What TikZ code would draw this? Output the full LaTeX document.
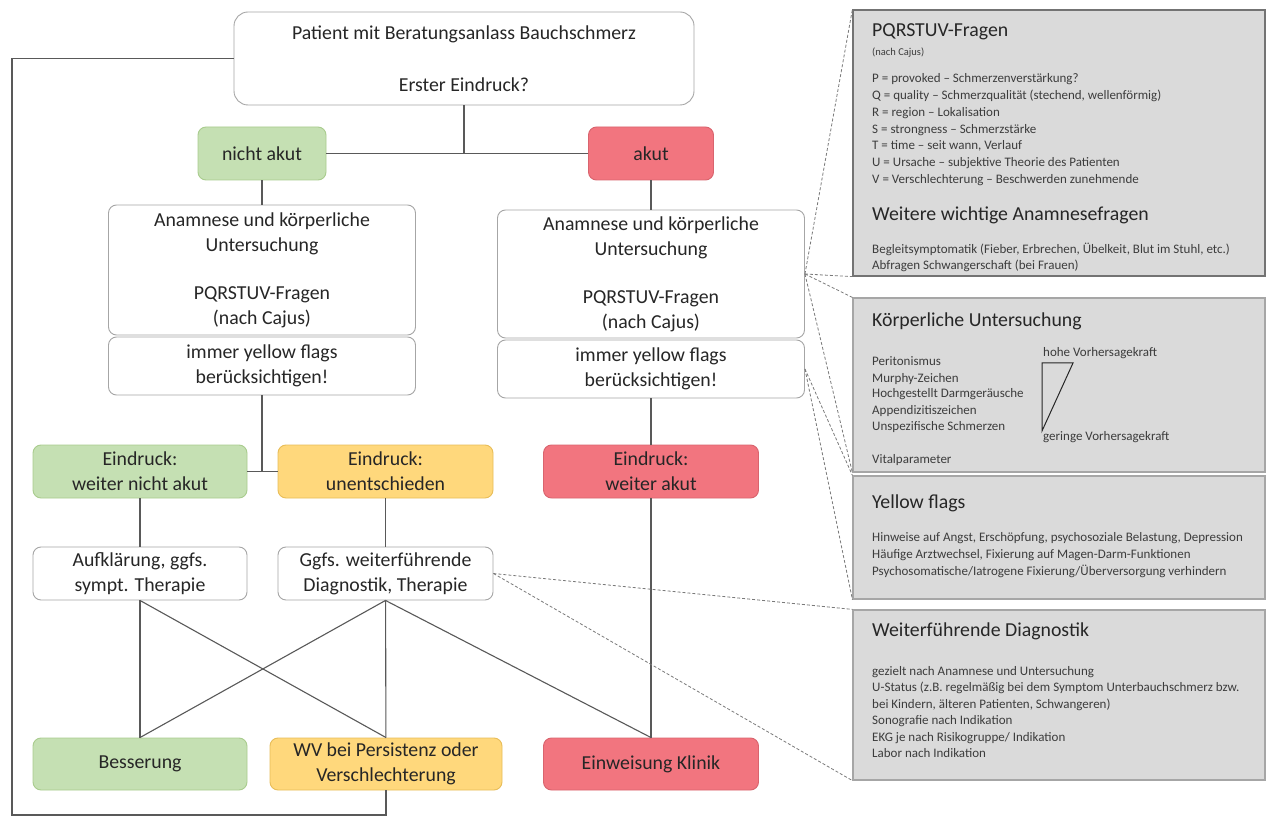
\documentclass[tikz,border=0pt]{standalone}
\usepackage{fontspec}
\setmainfont{Carlito}
\usepackage{tikz}
\usetikzlibrary{positioning}
\usepackage{xcolor}

\definecolor{gfill}{HTML}{C5E0B3}
\definecolor{gline}{HTML}{A9CC8E}
\definecolor{rfill}{HTML}{F2757F}
\definecolor{rline}{HTML}{D9646E}
\definecolor{ofill}{HTML}{FFD87C}
\definecolor{oline}{HTML}{E8BD58}
\definecolor{boxline}{HTML}{A6A6A6}
\definecolor{connline}{HTML}{595959}
\definecolor{pfill}{HTML}{DADADA}
\definecolor{txt}{HTML}{262626}

\tikzset{
  box/.style={draw=boxline, fill=white, rounded corners=8pt, align=center,
    font=\fontsize{19.8}{25}\selectfont, text=txt, inner sep=2pt, line width=0.9pt},
  greenbox/.style={box, fill=gfill, draw=gline},
  redbox/.style={box, fill=rfill, draw=rline},
  orangebox/.style={box, fill=ofill, draw=oline},
  conn/.style={draw=connline, line width=1.1pt},
  callout/.style={draw=connline!80, line width=0.8pt, dash pattern=on 3pt off 2pt},
  panel/.style={rectangle, fill=pfill, draw=boxline, line width=1.2pt},
  ptitle/.style={anchor=west, inner sep=0pt, text=txt,
    font=\fontsize{19.8}{22}\selectfont},
  ptext/.style={anchor=west, inner sep=0pt, text=txt!90,
    font=\fontsize{13}{15}\selectfont, text height=9pt, text depth=3pt},
  pnote/.style={ptext, font=\fontsize{10.5}{12}\selectfont}
}

\begin{document}
\begin{tikzpicture}[x=1pt,y=-1pt]
\useasboundingbox (0,0) rectangle (1267,818);
\fill[white] (0,0) rectangle (1267,818);

% flow chart
\node[box, rounded corners=14pt, minimum width=460pt, minimum height=93pt] (top) at (464,58.5)
  {Patient mit Beratungsanlass Bauchschmerz\\[27pt]Erster Eindruck?};
\node[greenbox, minimum width=128pt, minimum height=53pt] (nakut) at (262,153.5) {nicht akut};
\node[redbox, minimum width=125pt, minimum height=53pt] (akut) at (651,153.5) {akut};
\node[box, minimum width=307pt, minimum height=130pt] (anamL) at (262,270)
  {Anamnese und körperliche\\Untersuchung\\[23pt]PQRSTUV-Fragen\\(nach Cajus)};
\node[box, minimum width=307pt, minimum height=58pt] (flagsL) at (262,366)
  {immer yellow flags\\berücksichtigen!};
\node[box, minimum width=307pt, minimum height=128pt] (anamR) at (651,274)
  {Anamnese und körperliche\\Untersuchung\\[23pt]PQRSTUV-Fragen\\(nach Cajus)};
\node[box, minimum width=307pt, minimum height=58pt] (flagsR) at (651,369)
  {immer yellow flags\\berücksichtigen!};
\node[greenbox, minimum width=214pt, minimum height=53pt] (wnakut) at (140,471.5) {Eindruck:\\weiter nicht akut};
\node[orangebox, minimum width=215pt, minimum height=53pt] (unent) at (385.5,471.5) {Eindruck:\\unentschieden};
\node[redbox, minimum width=215pt, minimum height=53pt] (wakut) at (651,471.5) {Eindruck:\\weiter akut};
\node[box, minimum width=214pt, minimum height=53pt] (aufkl) at (140,573.5) {Aufklärung, ggfs.\\sympt. Therapie};
\node[box, minimum width=215pt, minimum height=53pt] (ggfs) at (385.5,573.5) {Ggfs. weiterführende\\Diagnostik, Therapie};
\node[greenbox, minimum width=214pt, minimum height=52pt] (bess) at (140,764) {Besserung};
\node[orangebox, minimum width=232pt, minimum height=52pt] (wv) at (386,764) {WV bei Persistenz oder\\Verschlechterung};
\node[redbox, minimum width=215pt, minimum height=52pt] (einw) at (651,764) {Einweisung Klinik};

\coordinate (split) at (top.south |- nakut.east);
\draw[conn] (top.south) -- (split);
\draw[conn] (nakut) -- (akut);
\draw[conn] (nakut) -- (anamL);
\draw[conn] (akut) -- (anamR);
\draw[conn] (flagsL) -- (flagsL.south |- wnakut.east);
\draw[conn] (wnakut) -- (unent);
\draw[conn] (flagsR) -- (wakut);
\draw[conn] (wakut) -- (einw);
\draw[conn] (wnakut) -- (aufkl);
\draw[conn] (unent) -- (ggfs);
\draw[conn] (aufkl) -- (bess);
\draw[conn] (aufkl.south) -- (wv.north);
\draw[conn] (ggfs.south) -- (bess.north);
\draw[conn] (ggfs) -- (wv);
\draw[conn] (ggfs.south) -- (einw.north);
\coordinate (loop) at (12,815);
\draw[conn] (wv.south) |- (loop) |- (top.west);

% info panels
\node[panel, draw=gray!90!black, minimum width=412pt, minimum height=266pt] (p1) at (1059,143) {};
\node[panel, minimum width=412pt, minimum height=174pt] (p2) at (1059,385) {};
\node[panel, minimum width=412pt, minimum height=123pt] (p3) at (1059,537.5) {};
\node[panel, minimum width=412pt, minimum height=170pt] (p4) at (1059,695) {};

\draw[callout] (anamR.east) -- (p1.north west);
\draw[callout] (anamR.east) -- (p1.south west);
\draw[callout] (anamR.east) -- (p2.north west);
\draw[callout] (anamR.east) -- (p2.south west);
\draw[callout] (flagsR.east) -- (p3.north west);
\draw[callout] (flagsR.east) -- (p3.south west);
\draw[callout] (ggfs.east) -- (p4.north west);
\draw[callout] (ggfs.east) -- (p4.south west);

\node[ptitle] (p1t) at (872,32) {PQRSTUV-Fragen};
\node[pnote] (p1n) at (872,53) {(nach Cajus)};
\foreach \t [count=\i] in {{P = provoked – Schmerzenverstärkung?},
    {Q = quality – Schmerzqualität (stechend, wellenförmig)},
    {R = region – Lokalisation},
    {S = strongness – Schmerzstärke},
    {T = time – seit wann, Verlauf},
    {U = Ursache – subjektive Theorie des Patienten},
    {V = Verschlechterung – Beschwerden zunehmende}}
  \node[ptext] (pq\i) at (872,{80+16.7*(\i-1)}) {\t};
\node[ptitle] (p1w) at (872,215) {Weitere wichtige Anamnesefragen};
\node[ptext] (p1a) at (872,251) {Begleitsymptomatik (Fieber, Erbrechen, Übelkeit, Blut im Stuhl, etc.)};
\node[ptext] (p1b) at (872,267) {Abfragen Schwangerschaft (bei Frauen)};

\node[ptitle] (p2t) at (872,321) {Körperliche Untersuchung};
\foreach \t [count=\i] in {Peritonismus, Murphy-Zeichen, Hochgestellt Darmgeräusche,
    Appendizitiszeichen, Unspezifische Schmerzen}
  \node[ptext] (ku\i) at (872,{363+16*(\i-1)}) {\t};
\draw[txt, line width=1pt] (1042,363) -- (1073,363) -- (1042,431) -- cycle;
\node[ptext] (hoch) at (1043,354) {hohe Vorhersagekraft};
\node[ptext] (gering) at (1043,437) {geringe Vorhersagekraft};
\node[ptext] (vital) at (872,460) {Vitalparameter};

\node[ptitle] (p3t) at (872,503) {Yellow flags};
\foreach \t [count=\i] in {{Hinweise auf Angst, Erschöpfung, psychosoziale Belastung, Depression},
    {Häufige Arztwechsel, Fixierung auf Magen-Darm-Funktionen},
    {Psychosomatische/Iatrogene Fixierung/Überversorgung verhindern}}
  \node[ptext] (yf\i) at (872,{538+17*(\i-1)}) {\t};

\node[ptitle] (p4t) at (872,631) {Weiterführende Diagnostik};
\foreach \t [count=\i] in {{gezielt nach Anamnese und Untersuchung},
    {U-Status (z.B. regelmäßig bei dem Symptom Unterbauchschmerz bzw.},
    {bei Kindern, älteren Patienten, Schwangeren)},
    {Sonografie nach Indikation},
    {EKG je nach Risikogruppe/ Indikation},
    {Labor nach Indikation}}
  \node[ptext] (wd\i) at (872,{672+16.5*(\i-1)}) {\t};
\end{tikzpicture}
\end{document}
